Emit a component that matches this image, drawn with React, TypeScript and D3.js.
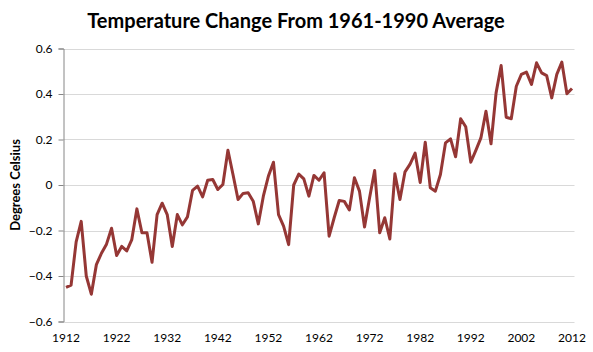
import React, { useEffect, useRef } from "react";
import * as d3 from "d3";

// years 1912..2012, anomaly vs 1961-1990 average (deg C)
const years: number[] = d3.range(1912, 2013);
const anomalies: number[] = [
  -0.45, -0.44, -0.25, -0.16, -0.4, -0.48, -0.35, -0.3, -0.26, -0.19,
  -0.31, -0.27, -0.29, -0.24, -0.105, -0.21, -0.21, -0.34, -0.13, -0.08,
  -0.13, -0.27, -0.13, -0.175, -0.14, -0.024, -0.005, -0.052, 0.021, 0.024,
  -0.02, 0.002, 0.153, 0.046, -0.064, -0.037, -0.034, -0.071, -0.171, -0.049,
  0.039, 0.1, -0.13, -0.181, -0.262, 0.0, 0.048, 0.027, -0.049, 0.042,
  0.021, 0.054, -0.225, -0.144, -0.068, -0.072, -0.11, 0.032, -0.027, -0.185,
  -0.056, 0.064, -0.21, -0.144, -0.237, 0.049, -0.064, 0.058, 0.092, 0.14,
  0.011, 0.188, -0.012, -0.027, 0.046, 0.185, 0.203, 0.124, 0.291, 0.256,
  0.1, 0.152, 0.207, 0.324, 0.181, 0.405, 0.525, 0.298, 0.291, 0.434,
  0.486, 0.496, 0.442, 0.537, 0.493, 0.481, 0.383, 0.486, 0.54, 0.401,
  0.424,
];
const yTicks: number[] = [-0.6, -0.4, -0.2, 0, 0.2, 0.4, 0.6];
const xTickYears: number[] = [1912, 1922, 1932, 1942, 1952, 1962, 1972, 1982, 1992, 2002, 2012];

const title = "Temperature Change From 1961-1990 Average";
const yTitle = "Degrees Celsius";

const width = 593;
const height = 352;
const font = "Lato, 'Open Sans', sans-serif";

const App: React.FC = () => {
  const svgRef = useRef<SVGSVGElement | null>(null);

  useEffect(() => {
    document.body.style.margin = "0";
    const svg = d3.select(svgRef.current);
    svg.selectAll("*").remove();

    const left = 63.5;
    const right = 574.5;
    const top = 48.5;
    const bottom = 321.5;

    const x = d3.scaleBand<number>().domain(years).range([left, right]).padding(0);
    const y = d3.scaleLinear().domain([-0.6, 0.6]).range([bottom, top]);
    const cx = (yr: number) => (x(yr) as number) + x.bandwidth() / 2;

    // gridlines
    svg
      .append("g")
      .selectAll("line")
      .data(yTicks)
      .enter()
      .append("line")
      .attr("x1", left)
      .attr("x2", right)
      .attr("y1", (d) => Math.round(y(d)) + 0.5)
      .attr("y2", (d) => Math.round(y(d)) + 0.5)
      .attr("stroke", "#d9d9d9")
      .attr("stroke-width", 1);

    // y axis
    const yAxis = svg
      .append("g")
      .attr("transform", `translate(${left},0)`)
      .call(
        d3
          .axisLeft(y)
          .tickValues(yTicks)
          .tickSize(5)
          .tickPadding(6)
          .tickFormat((d) => (d === 0 ? "0" : d3.format(".1f")(d as number)))
      );
    yAxis.select(".domain").attr("stroke", "#868686");
    yAxis.selectAll(".tick line").attr("stroke", "#868686");
    yAxis
      .selectAll("text")
      .attr("font-family", font)
      .attr("font-size", 12)
      .attr("fill", "#000");

    // x labels (no axis line drawn at bottom besides gridline)
    svg
      .append("g")
      .selectAll("text")
      .data(xTickYears)
      .enter()
      .append("text")
      .attr("x", (d) => cx(d))
      .attr("y", 342)
      .attr("text-anchor", "middle")
      .attr("font-family", font)
      .attr("font-size", 12)
      .attr("fill", "#000")
      .text((d) => d);

    // line
    const line = d3
      .line<number>()
      .x((_, i) => cx(years[i]))
      .y((d) => y(d));
    svg
      .append("path")
      .datum(anomalies)
      .attr("d", line)
      .attr("fill", "none")
      .attr("stroke", "#953735")
      .attr("stroke-width", 3)
      .attr("stroke-linejoin", "round");

    // title
    svg
      .append("text")
      .attr("x", 296)
      .attr("y", 28)
      .attr("text-anchor", "middle")
      .attr("font-family", font)
      .attr("font-weight", "bold")
      .attr("font-size", 20)
      .attr("fill", "#000")
      .text(title);

    // y title
    svg
      .append("text")
      .attr("transform", `translate(20,185) rotate(-90)`)
      .attr("text-anchor", "middle")
      .attr("font-family", font)
      .attr("font-weight", "bold")
      .attr("font-size", 13)
      .attr("fill", "#000")
      .text(yTitle);
  }, []);

  return (
    <svg
      ref={svgRef}
      width={width}
      height={height}
      style={{ display: "block", background: "#fff" }}
    ></svg>
  );
};

export default App;
